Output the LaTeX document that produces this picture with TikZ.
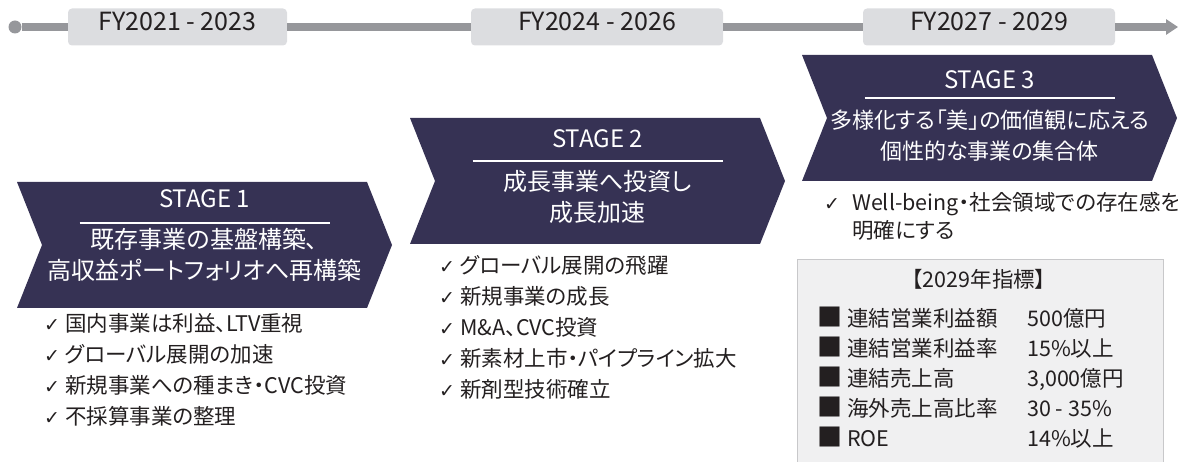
\documentclass[tikz,border=0pt]{standalone}
\usepackage{fontspec}
\setmainfont{Noto Sans CJK JP}[RawFeature=+palt]
\newfontfamily\symfont{DejaVu Sans}
\usepackage{tikz}
\usetikzlibrary{arrows.meta}
\definecolor{stagebg}{RGB}{54,50,84}
\definecolor{linegray}{RGB}{150,151,155}
\definecolor{periodbg}{RGB}{220,221,224}
\definecolor{boxbg}{RGB}{240,240,241}
\definecolor{boxedge}{RGB}{200,200,202}
\definecolor{inktext}{RGB}{35,31,32}
\newcommand\chk{{\symfont\fontsize{19}{19}\selectfont ✓}}

\begin{document}
\begin{tikzpicture}[x=1pt,y=-1pt,font=\fontsize{21.5}{26}\selectfont,
    txt/.style={inner sep=0pt,text height=0.88em,text depth=0.12em,text=inktext},
    period/.style={txt,fill=periodbg,rounded corners=4pt,minimum width=#1,
        minimum height=37pt,font=\fontsize{25}{30}\selectfont},
    stagetxt/.style={txt,text=white},
    item/.style={txt,anchor=west}]
    \useasboundingbox (0,0) rectangle (1178,462);
    \clip (0,0) rectangle (1178,462);
    \node[circle,fill=linegray,inner sep=0pt,minimum size=13pt] (T-0) at (15,27) {};
    \node[period=219pt] (P-1) at (177.5,27) {FY2021 - 2023};
    \node[period=252pt] (P-2) at (597,27) {FY2024 - 2026};
    \node[period=252pt] (P-3) at (989,27) {FY2027 - 2029};
    \coordinate (T-4) at (1178,27);
    \draw[linegray,line width=8pt] (T-0) -- (P-1) (P-1) -- (P-2) (P-2) -- (P-3);
    \draw[linegray,line width=8pt,-{Triangle[length=12pt,width=15pt]}] (P-3) -- (T-4);
    \foreach \X/\Y/\Ya/\Yb/\Yc/\Yd/\F/\La/\Lb [count=\i] in
        {17/182/204/223/245/276/24/{既存事業の基盤構築、}/{高収益ポートフォリオへ再構築},
         410/118/144/161/187/218/24/{成長事業へ投資し}/{成長加速},
         802/55/85/98/125/156/22/{多様化する「美」の価値観に応える}/{個性的な事業の集合体}}
        {\fill[stagebg] (\X,\Y) -- ++(350,0) -- ++(25,63) -- ++(-25,63)
            -- ++(-350,0) -- ++(25,-63) -- cycle;
        \node[stagetxt,font=\fontsize{24}{24}\selectfont] (S-\i) at (\X+187.5,\Ya) {STAGE \i};
        \draw[white,line width=1.6pt] (\X+62.5,\Yb) -- ++(250,0);
        \node[stagetxt,font=\fontsize{\F}{\F}\selectfont] (S-\i-a) at (\X+187.5,\Yc) {\La};
        \node[stagetxt,font=\fontsize{\F}{\F}\selectfont] (S-\i-b) at (\X+187.5,\Yd) {\Lb};
        }
    \foreach \L [count=\i] in
        {国内事業は利益、LTV重視,グローバル展開の加速,新規事業への種まき・CVC投資,不採算事業の整理}
        \node[item] (A-\i) at (44,297+31*\i) {\chk\hspace{5pt}\L};
    \foreach \L [count=\i] in
        {グローバル展開の飛躍,新規事業の成長,M\&A、CVC投資,新素材上市・パイプライン拡大,新剤型技術確立}
        \node[item] (B-\i) at (439,239+31*\i) {\chk\hspace{5pt}\L};
    \node[item] (C-1) at (824,207) {\chk\hspace{12pt}Well-being・社会領域での存在感を};
    \node[item] (C-2) at (852,235) {明確にする};
    \draw[fill=boxbg,draw=boxedge,line width=1pt] (797,260) rectangle (1163,480);
    \node[txt] (K-0) at (979,284) {【2029年指標】};
    \foreach \K/\V [count=\i] in
        {連結営業利益額/500億円,連結営業利益率/15\%以上,連結売上高/{3,000億円},
         海外売上高比率/30 - 35\%,ROE/14\%以上}
        {\node[item,font=\fontsize{25}{25}\selectfont] (Q-\i) at (817,293+30*\i) {■};
        \node[item] (K-\i) at (847,293+30*\i) {\K};
        \node[item] (V-\i) at (1027,293+30*\i) {\V};
        }
\end{tikzpicture}
\end{document}
